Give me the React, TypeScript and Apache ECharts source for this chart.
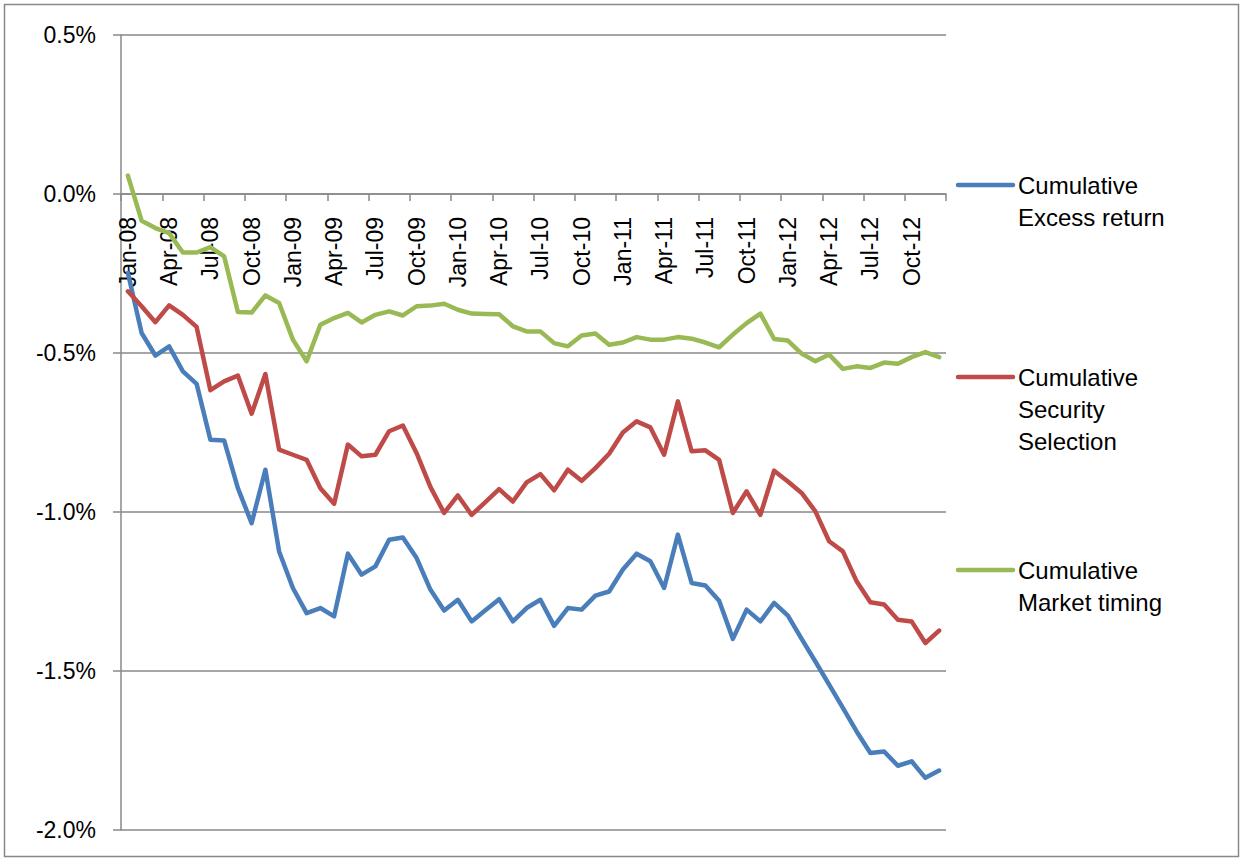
import React, { useEffect, useRef } from "react";
import * as echarts from "echarts";

const monthNames = ["Jan", "Feb", "Mar", "Apr", "May", "Jun", "Jul", "Aug", "Sep", "Oct", "Nov", "Dec"];
const years = ["08", "09", "10", "11", "12"];
const categories = years.flatMap((y) => monthNames.map((m) => `${m}-${y}`));

const excessReturn = [
  -0.248, -0.437, -0.508, -0.479, -0.558, -0.597, -0.773, -0.775, -0.925, -1.035,
  -0.867, -1.124, -1.239, -1.318, -1.302, -1.328, -1.131, -1.197, -1.171, -1.087,
  -1.080, -1.145, -1.244, -1.310, -1.276, -1.344, -1.309, -1.274, -1.344, -1.302,
  -1.276, -1.358, -1.302, -1.307, -1.263, -1.250, -1.181, -1.131, -1.155, -1.239,
  -1.071, -1.223, -1.231, -1.279, -1.399, -1.307, -1.344, -1.286, -1.326, -1.399,
  -1.470, -1.543, -1.616, -1.690, -1.758, -1.753, -1.798, -1.784, -1.836, -1.813,
];

const securitySelection = [
  -0.306, -0.353, -0.403, -0.350, -0.380, -0.418, -0.617, -0.589, -0.571, -0.691,
  -0.566, -0.804, -0.820, -0.836, -0.925, -0.974, -0.788, -0.825, -0.820, -0.746,
  -0.728, -0.815, -0.921, -1.003, -0.948, -1.009, -0.969, -0.928, -0.967, -0.907,
  -0.881, -0.932, -0.867, -0.902, -0.862, -0.817, -0.750, -0.715, -0.734, -0.820,
  -0.652, -0.809, -0.806, -0.836, -1.003, -0.935, -1.009, -0.870, -0.904, -0.940,
  -0.998, -1.092, -1.124, -1.218, -1.284, -1.291, -1.339, -1.344, -1.412, -1.373,
];

const marketTiming = [
  0.058, -0.084, -0.107, -0.123, -0.184, -0.184, -0.167, -0.196, -0.371, -0.373,
  -0.319, -0.343, -0.458, -0.526, -0.411, -0.390, -0.374, -0.404, -0.380, -0.369,
  -0.382, -0.353, -0.351, -0.345, -0.364, -0.376, -0.377, -0.378, -0.416, -0.432,
  -0.432, -0.469, -0.479, -0.445, -0.439, -0.474, -0.467, -0.450, -0.458, -0.458,
  -0.450, -0.455, -0.467, -0.482, -0.442, -0.406, -0.376, -0.456, -0.461, -0.502,
  -0.526, -0.505, -0.550, -0.542, -0.547, -0.530, -0.534, -0.513, -0.497, -0.513,
];

const yTickMin = -2;
const yTickMax = 0.5;
const yTickStep = 0.5;

const seriesNames = ["Cumulative\nExcess return", "Cumulative\nSecurity\nSelection", "Cumulative\nMarket timing"];
const seriesColors = ["#4A7EBB", "#BE4B48", "#98B954"];
const seriesData = [excessReturn, securitySelection, marketTiming];

const FONT = "'Liberation Sans', Arial, sans-serif";
const GRID_COLOR = "#888888";

const GRID_TOP = 35;
const GRID_HEIGHT = 795;

export default function App() {
  const ref = useRef<HTMLDivElement>(null);

  useEffect(() => {
    document.body.style.margin = "0";
    const chart = echarts.init(ref.current!, undefined, { renderer: "svg" });

    // distance (px) from the bottom of the plot up to the zero line
    const zeroOffset = (GRID_HEIGHT * (0 - yTickMin)) / (yTickMax - yTickMin);

    const legendY = [185, 377, 570];
    const legendGraphics: any[] = [];
    seriesNames.forEach((name, i) => {
      legendGraphics.push({
        type: "line",
        shape: { x1: 958, y1: legendY[i], x2: 1013, y2: legendY[i] },
        style: { stroke: seriesColors[i], lineWidth: 4.5, lineCap: "round" },
      });
      legendGraphics.push({
        type: "text",
        x: 1018,
        y: legendY[i] - 16,
        style: {
          text: name,
          font: `24px ${FONT}`,
          fill: "#000000",
          lineHeight: 32,
          verticalAlign: "top",
        },
      });
    });

    chart.setOption({
      animation: false,
      backgroundColor: "#ffffff",
      textStyle: { fontFamily: FONT },
      grid: {
        left: 121,
        top: GRID_TOP,
        width: 825,
        height: GRID_HEIGHT,
        containLabel: false,
        outerBoundsMode: "none",
      },
      xAxis: {
        type: "category",
        data: categories,
        boundaryGap: true,
        position: "bottom",
        offset: -zeroOffset,
        axisLine: { show: true, onZero: false, lineStyle: { color: GRID_COLOR, width: 1.5 } },
        axisTick: { show: true, interval: 2, length: 7, lineStyle: { color: GRID_COLOR, width: 1.5 } },
        axisLabel: {
          interval: 2,
          rotate: 90,
          margin: 23,
          fontSize: 23,
          color: "#000000",
          fontFamily: FONT,
        },
        splitLine: { show: false },
      },
      yAxis: {
        type: "value",
        min: yTickMin,
        max: yTickMax,
        interval: yTickStep,
        axisLine: { show: true, lineStyle: { color: GRID_COLOR, width: 1.5 } },
        axisTick: { show: true, length: 8, lineStyle: { color: GRID_COLOR, width: 1.5 } },
        axisLabel: {
          margin: 25,
          fontSize: 23,
          color: "#000000",
          fontFamily: FONT,
          formatter: (v: number) => `${v.toFixed(1)}%`,
        },
        splitLine: { show: true, lineStyle: { color: GRID_COLOR, width: 1.5 } },
      },
      series: seriesData.map((d, i) => ({
        name: seriesNames[i],
        type: "line",
        data: d,
        symbol: "none",
        smooth: false,
        lineStyle: { color: seriesColors[i], width: 4.5, cap: "round", join: "round" },
        itemStyle: { color: seriesColors[i] },
      })),
      graphic: [
        {
          type: "rect",
          shape: { x: 4.5, y: 4.5, width: 1234, height: 852 },
          style: { fill: "none", stroke: GRID_COLOR, lineWidth: 1.5 },
          silent: true,
        },
        ...legendGraphics,
      ],
    });

    return () => chart.dispose();
  }, []);

  return <div ref={ref} style={{ width: 1243, height: 861 }} />;
}
